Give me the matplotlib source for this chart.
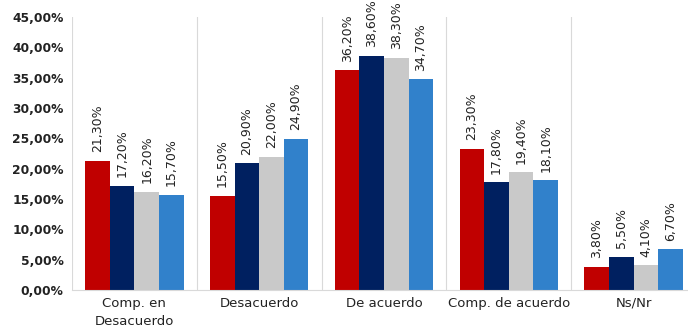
import numpy as np
import matplotlib.pyplot as plt

categories = ['Comp. en\nDesacuerdo', 'Desacuerdo', 'De acuerdo', 'Comp. de acuerdo', 'Ns/Nr']
serie1 = [21.3, 15.5, 36.2, 23.3, 3.8]
serie2 = [17.2, 20.9, 38.6, 17.8, 5.5]
serie3 = [16.2, 22.0, 38.3, 19.4, 4.1]
serie4 = [15.7, 24.9, 34.7, 18.1, 6.7]
colores = ['#C00000', '#002060', '#C9C9C9', '#3181CB']

fig = plt.figure(figsize=(6.88, 3.32), dpi=100)
ax = fig.add_axes([0.1047, 0.1265, 0.9069, 0.8223])

x = np.arange(len(categories))
w = 0.197
series = [serie1, serie2, serie3, serie4]
for i, (vals, c) in enumerate(zip(series, colores)):
    pos = x + (i - 1.5) * w
    ax.bar(pos, vals, width=w, color=c, zorder=2)
    for px, v in zip(pos, vals):
        ax.text(px, v + 1.4, f'{v:.2f}'.replace('.', ',') + '%', rotation=90,
                ha='center', va='bottom', fontsize=9, color='#222222', clip_on=False)

ax.set_xlim(-0.5, len(categories) - 0.5)
ax.set_ylim(0, 45)
ax.set_yticks(np.arange(0, 46, 5))
ax.set_yticklabels([f'{t:.2f}'.replace('.', ',') + '%' for t in np.arange(0, 46, 5)],
                   fontsize=8.8, fontweight='bold', color='#222222')
ax.set_xticks(x)
ax.set_xticklabels(categories, fontsize=9.5, color='#222222', linespacing=1.5)
ax.tick_params(axis='y', length=0, pad=6)
ax.tick_params(axis='x', length=0, pad=5)

for b in np.arange(-0.5, len(categories), 1):
    ax.axvline(b, color='#D9D9D9', lw=0.8, zorder=1)

for s in ['top', 'right', 'left']:
    ax.spines[s].set_visible(False)
ax.spines['bottom'].set_color('#D9D9D9')
ax.spines['bottom'].set_linewidth(0.8)

plt.savefig('out.png', dpi=100)
